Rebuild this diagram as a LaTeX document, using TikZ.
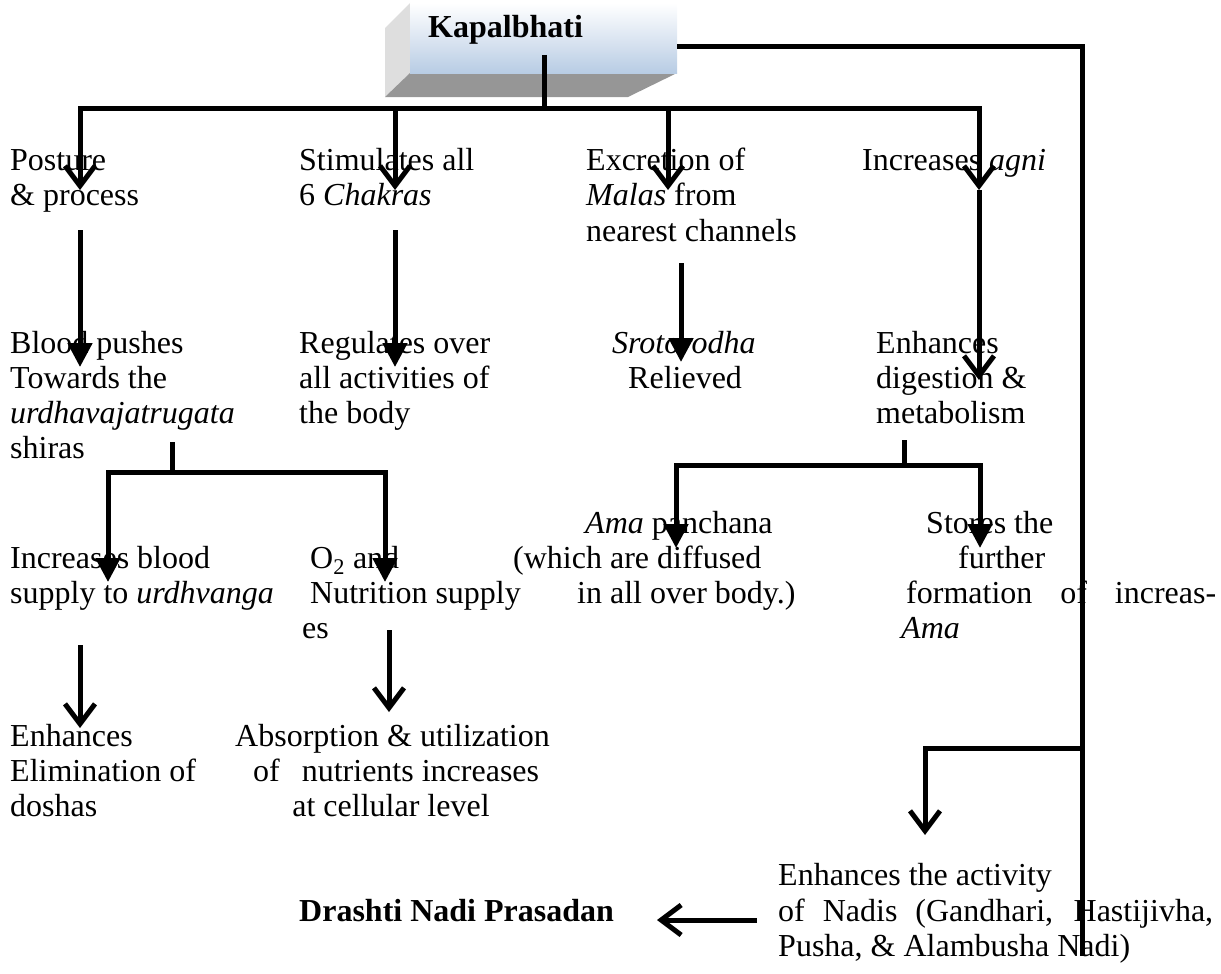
\documentclass[tikz,border=0pt]{standalone}
\usepackage{fontspec}
\setmainfont{Liberation Serif}
\usetikzlibrary{arrows.meta}
\definecolor{boxblue}{RGB}{184,204,228}
\definecolor{sidegray}{RGB}{222,222,222}
\definecolor{botgray}{RGB}{150,150,150}
\begin{document}
\begin{tikzpicture}[x=1pt,y=-1pt,
  txt/.style={anchor=base west, inner sep=0pt, font=\fontsize{32}{36}\selectfont},
  ctxt/.style={anchor=base, inner sep=0pt, font=\fontsize{32}{36}\selectfont},
  kapface/.style={shade, top color=white, bottom color=boxblue, draw=none, inner sep=0pt, anchor=north west, minimum width=267pt, minimum height=70pt},
  conn/.style={line width=5pt, line join=miter},
  barb/.style={conn, -{Straight Barb[length=20pt,width=30pt]}},
  tri/.style={conn, -{Triangle[length=24pt,width=24pt]}}]
\useasboundingbox (0,0) rectangle (1221,974);
% --- 3D box ---
\fill[sidegray] (385,28) -- (410,3) -- (410,73) -- (385,97) -- cycle;
\fill[botgray] (385,97) -- (410,73) -- (677,73) -- (628,97) -- cycle;
\node[kapface] (kapbox) at (410,3) {};
\node[txt] (kap) at (428,38) {\textbf{Kapalbhati}};
% --- texts row 1 ---
\node[txt] (a1) at (10,170) {Posture};
\node[txt] (a2) at (10,205) {\& process};
\node[txt] (b1) at (299,170) {Stimulates all};
\node[txt] (b2) at (299,205) {6 \textit{Chakras}};
\node[txt] (c1) at (586,170) {Excretion of};
\node[txt] (c2) at (586,205) {\textit{Malas} from};
\node[txt] (c3) at (586,241) {nearest channels};
\node[txt] (d1) at (862,170) {Increases \textit{agni}};
% --- row 2 ---
\node[txt] (e1) at (10,353) {Blood pushes};
\node[txt] (e2) at (10,388) {Towards the};
\node[txt] (e3) at (10,423) {\textit{urdhavajatrugata}};
\node[txt] (e4) at (10,458) {shiras};
\node[txt] (f1) at (299,353) {Regulates over};
\node[txt] (f2) at (299,388) {all activities of};
\node[txt] (f3) at (299,423) {the body};
\node[txt] (g1) at (612,353) {\textit{Srotorodha}};
\node[txt] (g2) at (628,388) {Relieved};
\node[txt] (h1) at (876,353) {Enhances};
\node[txt] (h2) at (876,388) {digestion \&};
\node[txt] (h3) at (876,423) {metabolism};
% --- row 3 ---
\node[txt] (i1) at (10,568) {Increases blood};
\node[txt] (i2) at (10,603) {supply to \textit{urdhvanga}};
\node[txt] (j1) at (310,568) {O\textsubscript{2} and};
\node[txt] (j2) at (310,603) {Nutrition supply};
\node[txt] (j3) at (302,638) {es};
\node[txt] (k1) at (585,533) {\textit{Ama} panchana};
\node[txt] (k2) at (513,568) {(which are diffused};
\node[txt] (k3) at (577,603) {in all over body.)};
\node[txt] (l1) at (926,533) {Stores the};
\node[txt] (l2) at (958,568) {further};
\node[txt] (l3) at (906,603) {\makebox[310pt][s]{formation of increas-}};
\node[txt] (l4) at (901,638) {\textit{Ama}};
% --- row 4 ---
\node[txt] (m1) at (10,746) {Enhances};
\node[txt] (m2) at (10,781) {Elimination of};
\node[txt] (m3) at (10,816) {doshas};
\node[txt] (n1) at (235,746) {Absorption \& utilization};
\node[txt] (n2) at (253,781) {of\hskip22pt nutrients increases};
\node[ctxt] (n3) at (391,816) {at cellular level};
% --- row 5 ---
\node[txt] (o1) at (778,885) {Enhances the activity};
\node[txt] (o2) at (778,921) {\makebox[435pt][s]{of Nadis (Gandhari, Hastijivha,}};
\node[txt] (o3) at (778,956) {Pusha, \& Alambusha Nadi)};
\node[txt] (dr) at (299,921) {\textbf{Drashti Nadi Prasadan}};
% --- coordinates ---
\coordinate (s0) at (544,55);
\coordinate (hL) at (80,108);
\coordinate (hB) at (395,108);
\coordinate (hC) at (668,108);
\coordinate (hR) at (979,108);
\coordinate (hM) at (544,108);
\coordinate (t1) at (80,190);
\coordinate (t2) at (395,190);
\coordinate (t3) at (668,190);
\coordinate (t4) at (979,190);
\coordinate (u1s) at (80,230);   \coordinate (u1t) at (80,367);
\coordinate (u2s) at (395,230);  \coordinate (u2t) at (395,367);
\coordinate (u3s) at (681,263);  \coordinate (u3t) at (681,362);
\coordinate (u4t) at (979,380);
\coordinate (v0) at (172,442);  \coordinate (vM) at (172,472);
\coordinate (vL) at (108,472);  \coordinate (vR) at (385,472);
\coordinate (vLt) at (108,582); \coordinate (vRt) at (385,582);
\coordinate (w0) at (904,440);  \coordinate (wM) at (904,465);
\coordinate (wL) at (676,465);  \coordinate (wR) at (980,465);
\coordinate (wLt) at (676,548); \coordinate (wRt) at (980,548);
\coordinate (x1s) at (80,645);  \coordinate (x1t) at (80,728);
\coordinate (x2s) at (389,630); \coordinate (x2t) at (389,712);
\coordinate (r0) at (677,47); \coordinate (r1) at (1082,47);
\coordinate (r2) at (1082,956); \coordinate (rb) at (1082,748);
\coordinate (nb) at (925,748); \coordinate (nt) at (925,835);
\coordinate (da) at (757,920); \coordinate (db) at (657,920);
% --- connectors ---
\draw[conn] (s0) -- (hM);
\draw[barb] (hR) -- (hL) -- (t1);
\draw[barb] (hL) -- (hR) -- (t4);
\draw[barb] (hB) -- (t2);
\draw[barb] (hC) -- (t3);
\draw[tri] (u1s) -- (u1t);
\draw[tri] (u2s) -- (u2t);
\draw[tri] (u3s) -- (u3t);
\draw[barb] (t4) -- (u4t);
\draw[conn] (v0) -- (vM);
\draw[tri] (vR) -- (vL) -- (vLt);
\draw[tri] (vL) -- (vR) -- (vRt);
\draw[conn] (w0) -- (wM);
\draw[tri] (wR) -- (wL) -- (wLt);
\draw[tri] (wL) -- (wR) -- (wRt);
\draw[barb] (x1s) -- (x1t);
\draw[barb] (x2s) -- (x2t);
\draw[conn] (r0) -- (r1) -- (r2);
\draw[barb] (rb) -- (nb) -- (nt);
\draw[barb] (da) -- (db);
\end{tikzpicture}
\end{document}
